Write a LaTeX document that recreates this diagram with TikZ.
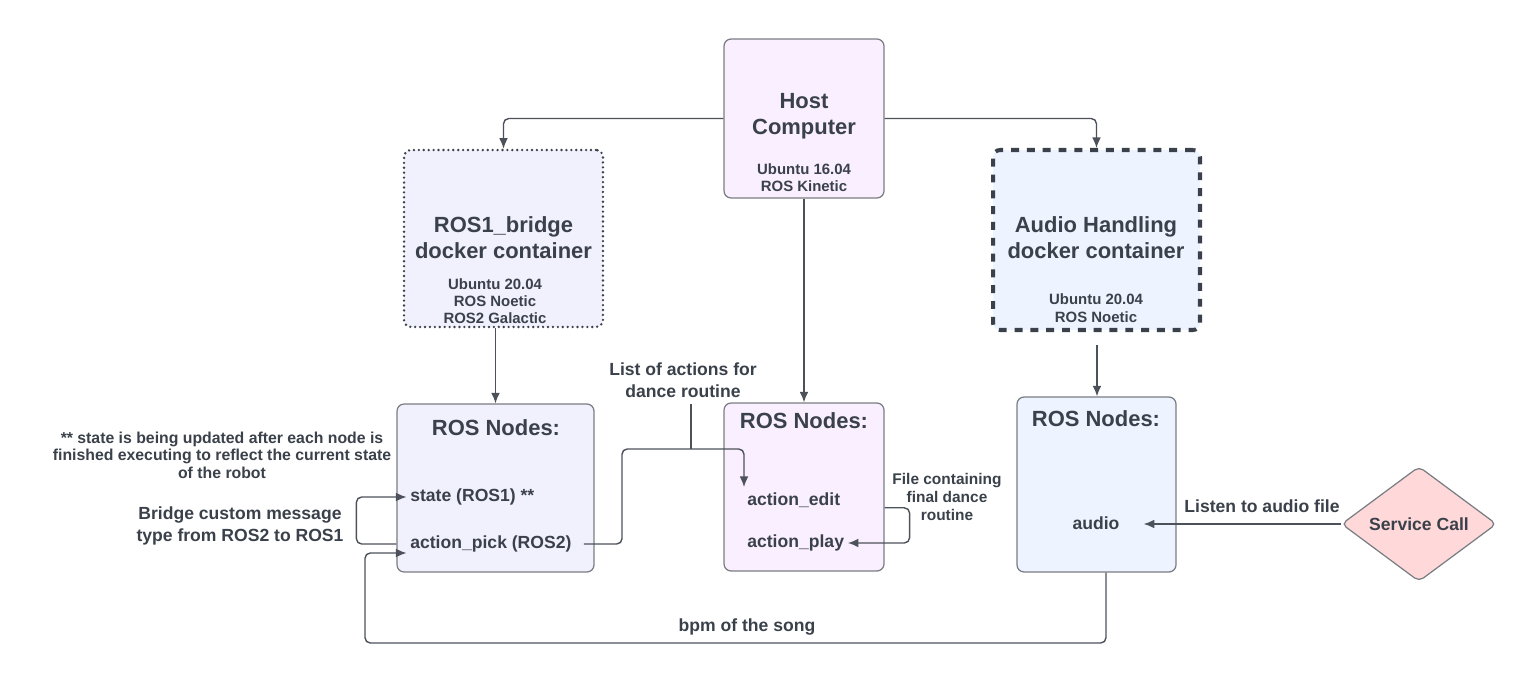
\documentclass[tikz,border=0pt]{standalone}
\usepackage{fontspec}
\setmainfont{Liberation Sans}
\usetikzlibrary{arrows.meta,shapes.geometric}
\definecolor{ink}{HTML}{3A414A}
\definecolor{edge}{HTML}{4D525A}
\definecolor{hostfill}{HTML}{FAEFFF}
\definecolor{bridgefill}{HTML}{F1F1FD}
\definecolor{audiofill}{HTML}{EDF4FF}
\definecolor{callfill}{HTML}{FFD9D9}
\begin{document}
\begin{tikzpicture}[x=0.02cm,y=-0.02cm,
    box/.style={draw=edge!75,line width=0.7pt,rounded corners=4pt,inner sep=0pt},
    title/.style={text=ink,font=\bfseries\fontsize{12.5}{14.7}\selectfont,align=center},
    sub/.style={text=ink,font=\bfseries\fontsize{8.5}{9.6}\selectfont,align=center},
    item/.style={text=ink,font=\bfseries\fontsize{10}{12}\selectfont,inner sep=0pt},
    lbl/.style={text=ink,font=\bfseries\fontsize{10}{12.5}\selectfont,align=center},
    conn/.style={draw=edge,line width=0.8pt,rounded corners=3pt,-{Latex[length=6pt,width=5pt]}},
    wire/.style={draw=edge,line width=0.8pt,rounded corners=3pt}]
    \useasboundingbox (0,0) rectangle (1539,699);
    % boxes
    \node[box,fill=hostfill,minimum width=3.2cm,minimum height=3.18cm] (host) at (804,118.5) {};
    \node[title] (hostname) at (804,116) {Host\\Computer};
    \node[sub] (hostos) at (804,178) {Ubuntu 16.04\\ROS Kinetic};
    \node[box,fill=bridgefill,draw=ink,line width=1.5pt,dash pattern=on 0pt off 2.8pt,line cap=round,minimum width=3.98cm,minimum height=3.54cm] (bridge) at (503.5,238.5) {};
    \node[title] (bridgename) at (503.5,238) {ROS1\_bridge\\docker container};
    \node[sub] (bridgeos) at (495,301) {Ubuntu 20.04\\ROS Noetic\\ROS2 Galactic};
    \node[box,fill=audiofill,draw=ink,line width=2.3pt,dash pattern=on 4.5pt off 4.5pt,minimum width=4.14cm,minimum height=3.6cm] (audio) at (1096.5,240) {};
    \node[title] (audioname) at (1096,238) {Audio Handling\\docker container};
    \node[sub,font=\bfseries\fontsize{8.5}{10.6}\selectfont] (audioos) at (1096,308) {Ubuntu 20.04\\ROS Noetic};
    \node[box,fill=bridgefill,minimum width=3.94cm,minimum height=3.36cm] (nodes1) at (495.5,488) {};
    \node[title] (nodes1name) at (496,428) {ROS Nodes:};
    \node[item,anchor=west] (state) at (410,497) {state (ROS1) **};
    \node[item,anchor=west] (pick) at (410,544) {action\_pick (ROS2)};
    \node[box,fill=hostfill,minimum width=3.2cm,minimum height=3.36cm] (nodes2) at (804,487) {};
    \node[title] (nodes2name) at (804,421) {ROS Nodes:};
    \node[item,anchor=west] (edit) at (747,500) {action\_edit};
    \node[item,anchor=west] (play) at (747,543) {action\_play};
    \node[box,fill=audiofill,minimum width=3.18cm,minimum height=3.5cm] (nodes3) at (1096.5,484.5) {};
    \node[title] (nodes3name) at (1096,419) {ROS Nodes:};
    \node[item] (audionode) at (1096,523) {audio};
    \node[diamond,draw=edge!75,fill=callfill,line width=0.7pt,rounded corners=3pt,inner sep=0pt,minimum width=3.1cm,minimum height=2.3cm,text=ink,font=\bfseries\fontsize{10}{12}\selectfont] (call) at (1419,524) {Service Call};
    % labels
    \node[lbl,font=\bfseries\fontsize{9}{9.9}\selectfont] (note) at (222,455) {** state is being updated after each node is\\finished executing to reflect the current state\\of the robot};
    \node[lbl] (bridgelbl) at (240,526) {Bridge custom message\\type from ROS2 to ROS1};
    \node[lbl] (list) at (683,380) {List of actions for\\dance routine};
    \node[lbl,font=\bfseries\fontsize{8.8}{10}\selectfont] (file) at (947,497) {File containing\\final dance\\routine};
    \node[lbl] (listen) at (1262,506) {Listen to audio file};
    \node[lbl] (bpm) at (747,627) {bpm of the song};
    % connectors
    \draw[conn] (host.west) -| (bridge.north);
    \draw[conn] (host.east) -| (audio.north);
    \draw[conn] (host.south) -- (nodes2.north);
    \draw[conn] (nodes1.north |- bridge.south) -- (nodes1.north);
    \coordinate (audioout) at (1097,345);
    \draw[conn] (audioout) -- (audioout |- nodes3.north);
    \draw[conn] (nodes1.west |- pick.west) -- ++(-40,0) |- ([xshift=-2pt]state.west);
    \draw[conn] ([xshift=0.19cm]nodes3.south) |- (365,643) |- ([xshift=-2pt,yshift=-0.18cm]pick.west);
    \coordinate (editin) at (744,487);
    \draw[conn] ([xshift=0.24cm]pick.east) -| (622,449) -| (editin);
    \coordinate (listjoin) at (691,449);
    \draw[wire] (list.south -| listjoin) -- (listjoin);
    \draw[conn] (nodes2.east |- edit.south) -- ++(25,0) |- ([xshift=2pt]play.east);
    \draw[conn] (call.west) -- ([xshift=0.48cm]audionode.east |- call.west);
\end{tikzpicture}
\end{document}
